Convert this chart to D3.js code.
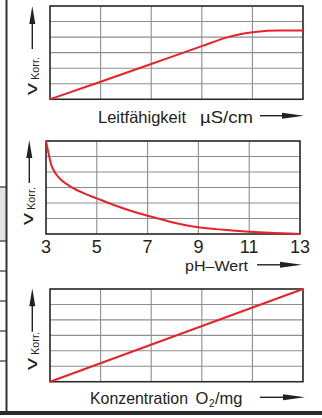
<!DOCTYPE html>
<html><head><meta charset="utf-8">
<script src="https://cdn.jsdelivr.net/npm/d3@7"></script>
<style>html,body{margin:0;padding:0;background:#fff;}svg{display:block;}text{font-family:"Liberation Sans",Arial,sans-serif;fill:#222;}</style>
</head><body>
<script>
// ---- data ----
const condX = [0, 1, 2, 3, 3.5, 3.8, 4.1, 4.5, 5];
const condV = [0, 1.13, 2.27, 3.42, 3.98, 4.22, 4.35, 4.42, 4.43];
const phX = [3, 3.1, 3.2, 3.4, 3.7, 4, 4.5, 5, 5.5, 6, 7, 7.5, 8, 9, 10, 11, 12, 13];
const phV = [6, 5.2, 4.5, 3.85, 3.35, 3.02, 2.62, 2.30, 1.98, 1.68, 1.18, 0.97, 0.74, 0.43, 0.27, 0.15, 0.06, 0];
const o2X = [0, 5];
const o2V = [0, 6];
const phTicks = [3, 5, 7, 9, 11, 13];
const yLabelMain = "v";
const yLabelSub = "Korr.";
const xLabels = [["Leitfähigkeit", "µS/cm"], ["pH–Wert"], ["Konzentration", "O", "2", "/mg"]];

const W = 322, H = 418;
const svg = d3.select("body").append("svg").attr("width", W).attr("height", H);

// frame at left and bottom
const frame = svg.append("g");
frame.append("rect").attr("x", 0).attr("y", 187).attr("width", 6).attr("height", 54).attr("fill", "#e3e3e3");
[187, 241, 271, 301, 331, 361].forEach(y => frame.append("line").attr("x1", 0).attr("x2", 6).attr("y1", y).attr("y2", y).attr("stroke", "#333").attr("stroke-width", 1.2));
frame.append("line").attr("x1", 6.5).attr("x2", 6.5).attr("y1", 0).attr("y2", 411).attr("stroke", "#333").attr("stroke-width", 2);
frame.append("rect").attr("x", 0).attr("y", 411).attr("width", W).attr("height", 4).attr("fill", "#2a2a2a");

const RED = "#e8222a";

function hArrow(x1, x2, y) {
  svg.append("line").attr("x1", x1).attr("x2", x2 - 18).attr("y1", y).attr("y2", y).attr("stroke", "#222").attr("stroke-width", 1.4);
  svg.append("path").attr("d", `M${x2 - 22},${y - 3}L${x2},${y}L${x2 - 22},${y + 3}Z`).attr("fill", "#222");
}
function vArrow(x, yTip, yEnd) {
  svg.append("line").attr("x1", x).attr("x2", x).attr("y1", yTip + 14).attr("y2", yEnd).attr("stroke", "#222").attr("stroke-width", 1.4);
  svg.append("path").attr("d", `M${x - 3},${yTip + 18}L${x},${yTip}L${x + 3},${yTip + 18}Z`).attr("fill", "#222");
}
function yLabel(xBase, yBottom) {
  const g = svg.append("g").attr("transform", `translate(${xBase},${yBottom}) rotate(-90)`);
  g.append("text").attr("x", 0).attr("y", 0).attr("font-size", 17).attr("textLength", 12).attr("lengthAdjust", "spacingAndGlyphs").text(yLabelMain);
  g.append("text").attr("x", 15).attr("y", 2).attr("font-size", 11.5).attr("textLength", 23).attr("lengthAdjust", "spacingAndGlyphs").text(yLabelSub);
}

function panel(cfg) {
  const x = d3.scaleLinear().domain(cfg.xDomain).range([cfg.left, cfg.right]);
  const y = d3.scaleLinear().domain([0, 6]).range([cfg.bottom, cfg.top]);
  const g = svg.append("g");
  g.selectAll("line.v").data(cfg.xGrid).join("line")
    .attr("x1", d => x(d)).attr("x2", d => x(d)).attr("y1", cfg.top).attr("y2", cfg.bottom)
    .attr("stroke", "#8e8e8e").attr("stroke-width", 1.1);
  g.selectAll("line.h").data(d3.range(0, 7)).join("line")
    .attr("x1", cfg.left).attr("x2", cfg.right).attr("y1", d => y(d)).attr("y2", d => y(d))
    .attr("stroke", "#8e8e8e").attr("stroke-width", 1.1);
  g.append("rect").attr("x", cfg.left).attr("y", cfg.top).attr("width", cfg.right - cfg.left).attr("height", cfg.bottom - cfg.top)
    .attr("fill", "none").attr("stroke", "#2a2a2a").attr("stroke-width", 1.5);
  const pts = cfg.xs.map((d, i) => [d, cfg.ys[i]]);
  g.append("path").datum(pts)
    .attr("d", d3.line().x(d => x(d[0])).y(d => y(d[1])).curve(d3.curveMonotoneX))
    .attr("fill", "none").attr("stroke", RED).attr("stroke-width", 2);
  return { x, y };
}

// Panel 1
panel({ left: 50, right: 303, top: 6, bottom: 99.3, xDomain: [0, 5], xGrid: d3.range(0, 6), xs: condX, ys: condV });
svg.append("text").attr("x", 98).attr("y", 122.5).attr("font-size", 16.5).attr("textLength", 88).attr("lengthAdjust", "spacingAndGlyphs").text(xLabels[0][0]);
svg.append("text").attr("x", 200).attr("y", 122.5).attr("font-size", 16.5).attr("textLength", 53).attr("lengthAdjust", "spacingAndGlyphs").text(xLabels[0][1]);
hArrow(260, 304, 115.7);
vArrow(32.3, 6, 49);
yLabel(36.7, 95);

// Panel 2
const p2 = panel({ left: 46, right: 300, top: 141, bottom: 234, xDomain: [3, 13], xGrid: phTicks, xs: phX, ys: phV });
svg.selectAll("text.tick").data(phTicks).join("text").attr("class", "tick")
  .attr("x", d => p2.x(d)).attr("y", 253).attr("text-anchor", "middle").attr("font-size", 18).text(d => d);
svg.append("text").attr("x", 185).attr("y", 270.5).attr("font-size", 15).attr("textLength", 63).attr("lengthAdjust", "spacingAndGlyphs").text(xLabels[1][0]);
hArrow(257, 302, 264.8);
vArrow(29.3, 140, 183);
yLabel(32.7, 225);

// Panel 3
panel({ left: 50, right: 303, top: 289, bottom: 381.7, xDomain: [0, 5], xGrid: d3.range(0, 6), xs: o2X, ys: o2V });
svg.append("text").attr("x", 90).attr("y", 403.5).attr("font-size", 16.5).attr("textLength", 98).attr("lengthAdjust", "spacingAndGlyphs").text(xLabels[2][0]);
const o2t = svg.append("text").attr("y", 403.5).attr("font-size", 16.5);
o2t.append("tspan").attr("x", 195.5).text(xLabels[2][1]);
o2t.append("tspan").attr("x", 209).attr("dy", 3).attr("font-size", 10).text(xLabels[2][2]);
o2t.append("tspan").attr("x", 215).attr("dy", -3).text(xLabels[2][3]);
hArrow(260, 305, 397.3);
vArrow(32.3, 288.3, 331.7);
yLabel(36.7, 370);
</script>
</body></html>
